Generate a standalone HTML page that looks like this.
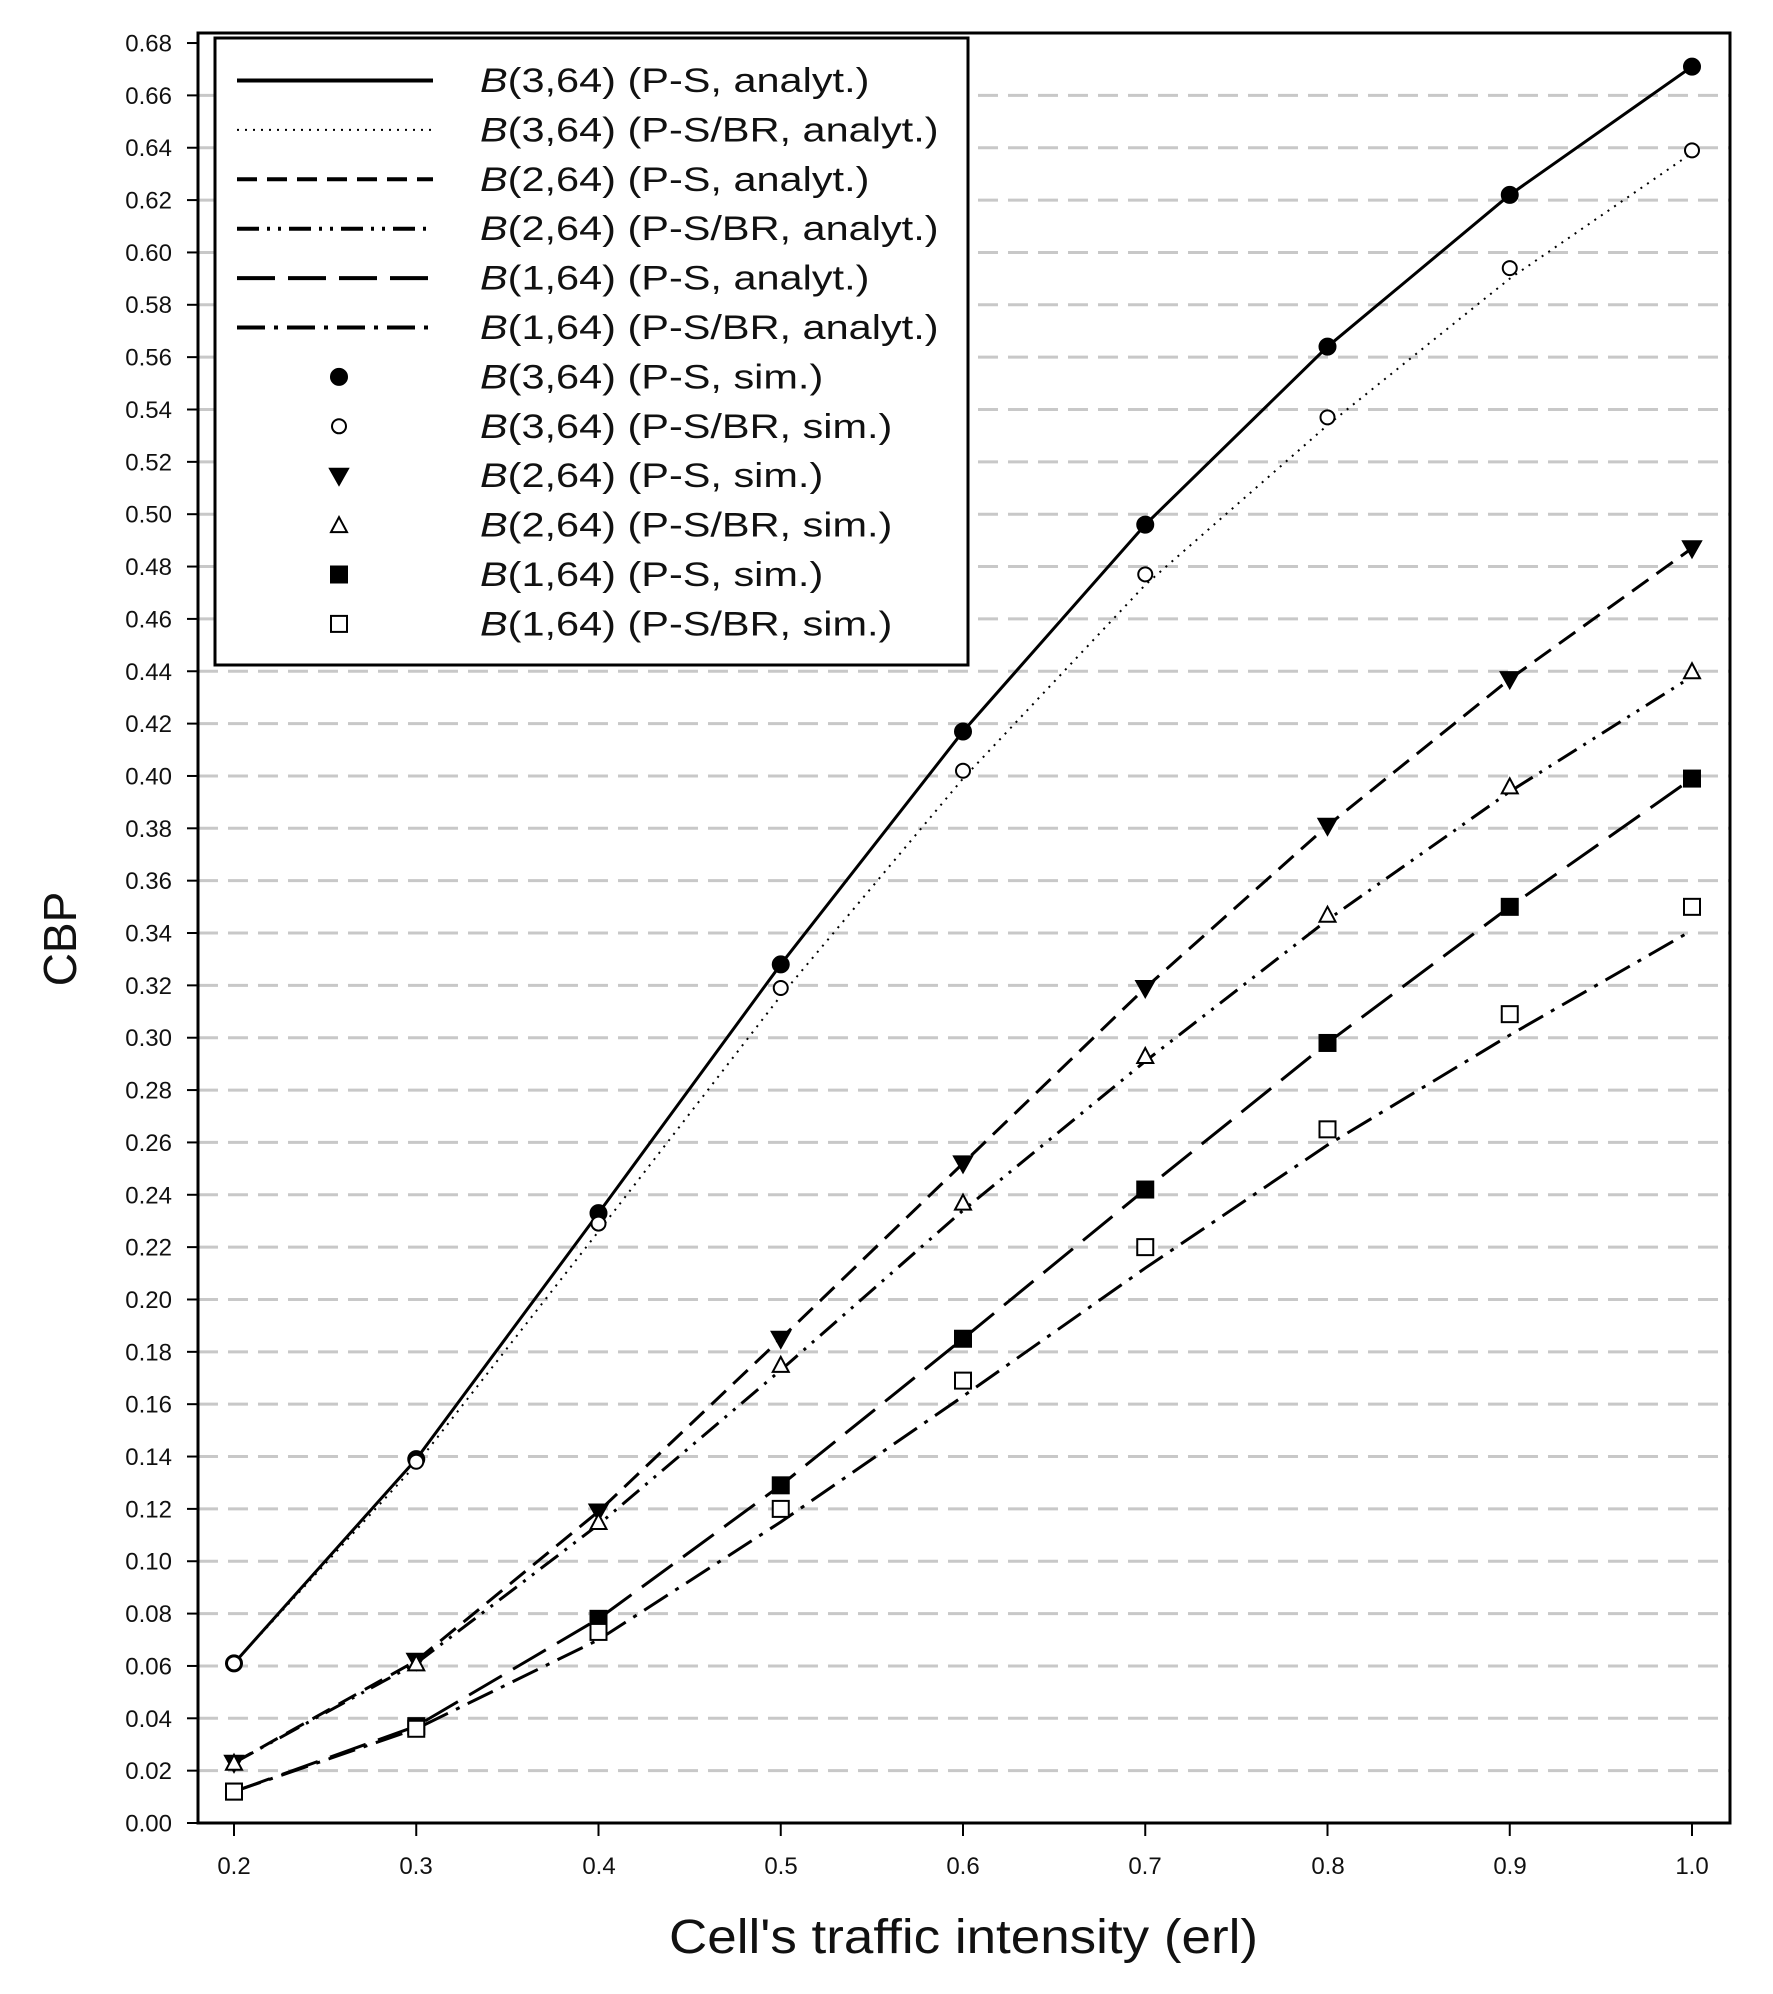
<!DOCTYPE html>
<html><head><meta charset="utf-8"><style>
html,body{margin:0;padding:0;background:#fff;}
svg{display:block;}
.t{font-family:"Liberation Sans",sans-serif;font-size:24px;fill:#111;}
.l{font-family:"Liberation Sans",sans-serif;font-size:34px;fill:#111;}
</style></head><body>
<svg id="s" width="1773" height="1994" viewBox="0 0 1773 1994" xmlns="http://www.w3.org/2000/svg">
<g id="grid"></g>
<g id="series"></g>
<rect x="198" y="33" width="1532" height="1790" fill="none" stroke="#000" stroke-width="3"/>
<g id="ticks"></g>
<g class="t" text-anchor="end">
<text x="172" y="1831.5">0.00</text><text x="172" y="1779.1">0.02</text><text x="172" y="1726.8">0.04</text><text x="172" y="1674.4">0.06</text><text x="172" y="1622.1">0.08</text><text x="172" y="1569.7">0.10</text><text x="172" y="1517.4">0.12</text><text x="172" y="1465">0.14</text><text x="172" y="1412.7">0.16</text><text x="172" y="1360.3">0.18</text><text x="172" y="1308">0.20</text><text x="172" y="1255.6">0.22</text><text x="172" y="1203.3">0.24</text><text x="172" y="1150.9">0.26</text><text x="172" y="1098.6">0.28</text><text x="172" y="1046.2">0.30</text><text x="172" y="993.9">0.32</text><text x="172" y="941.5">0.34</text><text x="172" y="889.2">0.36</text><text x="172" y="836.8">0.38</text><text x="172" y="784.5">0.40</text><text x="172" y="732.1">0.42</text><text x="172" y="679.8">0.44</text><text x="172" y="627.4">0.46</text><text x="172" y="575">0.48</text><text x="172" y="522.7">0.50</text><text x="172" y="470.3">0.52</text><text x="172" y="418">0.54</text><text x="172" y="365.6">0.56</text><text x="172" y="313.2">0.58</text><text x="172" y="260.9">0.60</text><text x="172" y="208.6">0.62</text><text x="172" y="156.2">0.64</text><text x="172" y="103.8">0.66</text><text x="172" y="51.5">0.68</text>
</g>
<g class="t" text-anchor="middle">
<text x="234" y="1874">0.2</text><text x="416" y="1874">0.3</text><text x="599" y="1874">0.4</text><text x="781" y="1874">0.5</text><text x="963" y="1874">0.6</text><text x="1145" y="1874">0.7</text><text x="1328" y="1874">0.8</text><text x="1510" y="1874">0.9</text><text x="1692" y="1874">1.0</text>
</g>
<text x="669" y="1953" textLength="589" lengthAdjust="spacingAndGlyphs" style="font-family:'Liberation Sans',sans-serif;font-size:48px;fill:#111">Cell's traffic intensity (erl)</text>
<text x="0" y="0" transform="translate(76,939) rotate(-90)" text-anchor="middle" style="font-family:'Liberation Sans',sans-serif;font-size:46px;fill:#111">CBP</text>
<rect x="215" y="38" width="753" height="627" fill="#fff" stroke="#000" stroke-width="3"/>
<g id="leg"></g>
<g class="l" transform="translate(480,0) scale(1.22,1) translate(-480,0)">
<text x="480" y="92"><tspan font-style="italic">B</tspan>(3,64) (P-S, analyt.)</text>
<text x="480" y="141.4"><tspan font-style="italic">B</tspan>(3,64) (P-S/BR, analyt.)</text>
<text x="480" y="190.8"><tspan font-style="italic">B</tspan>(2,64) (P-S, analyt.)</text>
<text x="480" y="240.2"><tspan font-style="italic">B</tspan>(2,64) (P-S/BR, analyt.)</text>
<text x="480" y="289.6"><tspan font-style="italic">B</tspan>(1,64) (P-S, analyt.)</text>
<text x="480" y="339"><tspan font-style="italic">B</tspan>(1,64) (P-S/BR, analyt.)</text>
<text x="480" y="388.4"><tspan font-style="italic">B</tspan>(3,64) (P-S, sim.)</text>
<text x="480" y="437.8"><tspan font-style="italic">B</tspan>(3,64) (P-S/BR, sim.)</text>
<text x="480" y="487.2"><tspan font-style="italic">B</tspan>(2,64) (P-S, sim.)</text>
<text x="480" y="536.6"><tspan font-style="italic">B</tspan>(2,64) (P-S/BR, sim.)</text>
<text x="480" y="586"><tspan font-style="italic">B</tspan>(1,64) (P-S, sim.)</text>
<text x="480" y="635.4"><tspan font-style="italic">B</tspan>(1,64) (P-S/BR, sim.)</text>
</g>
</svg>
<script>
var NS="http://www.w3.org/2000/svg";
function el(p,n,a){var e=document.createElementNS(NS,n);for(var k in a)e.setAttribute(k,a[k]);document.getElementById(p).appendChild(e);return e;}
function X(v){return 234+(v-0.2)*1822.5;}
function Y(v){return 1823-v*2617.6;}
for(var k=1;k<=33;k++){var y=Y(k*0.02);
 el("grid","line",{x1:198,x2:1730,y1:y,y2:y,stroke:"#c8c8c8","stroke-width":3,"stroke-dasharray":"20,10"});}
for(var k=0;k<=34;k++){var y=Y(k*0.02);el("ticks","line",{x1:187,x2:198,y1:y,y2:y,stroke:"#000","stroke-width":2});}
for(var i=0;i<9;i++){var x=X(0.2+i*0.1);el("ticks","line",{x1:x,x2:x,y1:1823,y2:1836,stroke:"#000","stroke-width":2});}
var xs=[.2,.3,.4,.5,.6,.7,.8,.9,1.0];
var S=[
 {l:[.061,.139,.233,.328,.417,.496,.564,.622,.671],m:[.061,.139,.233,.328,.417,.496,.564,.622,.671],d:"",mk:"fc"},
 {l:[.061,.137,.226,.316,.399,.473,.534,.590,.638],m:[.061,.138,.229,.319,.402,.477,.537,.594,.639],d:"2,6",mk:"oc"},
 {l:[.023,.062,.119,.185,.252,.319,.381,.437,.487],m:[.023,.062,.119,.185,.252,.319,.381,.437,.487],d:"20,10",mk:"ft"},
 {l:[.023,.061,.114,.173,.234,.291,.345,.394,.438],m:[.023,.061,.115,.175,.237,.293,.347,.396,.440],d:"22,8,3,8,3,8",mk:"ot"},
 {l:[.012,.037,.078,.129,.185,.242,.298,.350,.399],m:[.012,.037,.078,.129,.185,.242,.298,.350,.399],d:"38,13",mk:"fs"},
 {l:[.012,.036,.070,.115,.163,.212,.259,.301,.341],m:[.012,.036,.073,.120,.169,.220,.265,.309,.350],d:"28,9,4,9",mk:"os"}
];
function marker(g,t,x,y){
 var f=t[0]=="f"?"#000":"#fff";var a={fill:f,stroke:"#000","stroke-width":2};
 if(t[1]=="c"){a.cx=x;a.cy=y;a.r=t[0]=="f"?8:7;el(g,"circle",a);}
 else if(t[1]=="s"){a.x=x-8;a.y=y-8;a.width=16;a.height=16;el(g,"rect",a);}
 else if(t=="ft"){a.points=(x-9)+","+(y-7)+" "+(x+9)+","+(y-7)+" "+x+","+(y+9);el(g,"polygon",a);}
 else {a.points=(x-8)+","+(y+7)+" "+(x+8)+","+(y+7)+" "+x+","+(y-8);el(g,"polygon",a);}
}
S.forEach(function(s,i){
 var p=s.l.map(function(v,j){return X(xs[j])+","+Y(v);}).join(" ");
 var a={points:p,fill:"none",stroke:"#000","stroke-width":i==1?2:3};if(s.d)a["stroke-dasharray"]=s.d;
 el("series","polyline",a);
 s.m.forEach(function(v,j){marker("series",s.mk,X(xs[j]),Y(v));});
 var ly=80.5+i*49.4;var b={x1:237,x2:433,y1:ly,y2:ly,stroke:"#000","stroke-width":i==1?2:4};if(s.d)b["stroke-dasharray"]=s.d;
 el("leg","line",b);
 marker("leg",s.mk,339,80.5+(i+6)*49.4);
});
</script>
</body></html>
